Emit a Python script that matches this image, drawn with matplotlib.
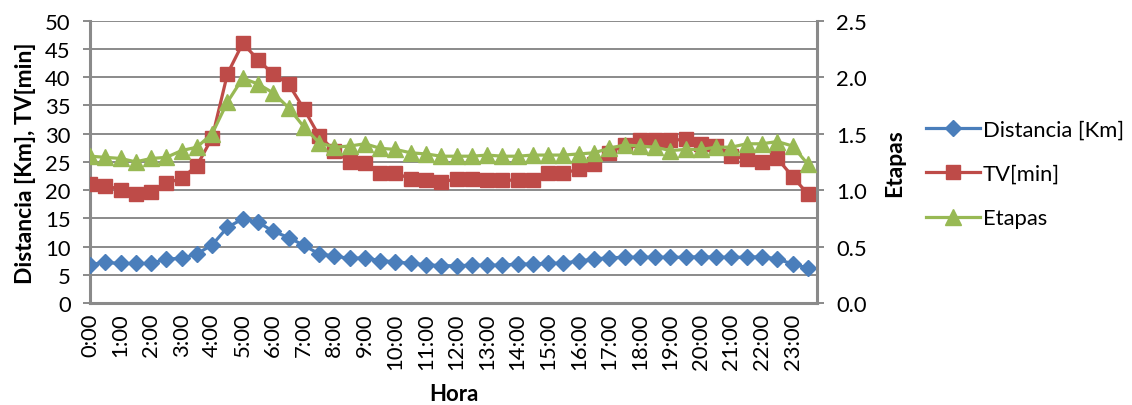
import matplotlib
matplotlib.use("Agg")
import matplotlib.pyplot as plt
import numpy as np

plt.rcParams['font.family'] = ['Lato', 'DejaVu Sans']

horas = [f"{h}:{m:02d}" for h in range(24) for m in (0, 30)]
tick_labels = [f"{h}:00" for h in range(24)]

distancia = [6.8, 7.2, 7.0, 7.0, 7.0, 7.8, 7.9, 8.7, 10.3, 13.4, 14.9, 14.3,
             12.7, 11.6, 10.2, 8.7, 8.3, 7.9, 8.0, 7.5, 7.3, 7.0, 6.8, 6.6,
             6.6, 6.7, 6.7, 6.7, 6.9, 6.9, 7.0, 7.1, 7.4, 7.8, 8.0, 8.1,
             8.1, 8.1, 8.1, 8.1, 8.2, 8.1, 8.1, 8.1, 8.2, 7.8, 6.9, 6.2]

tv = [21.0, 20.8, 20.1, 19.3, 19.6, 21.2, 22.1, 24.3, 29.3, 40.6, 46.0, 43.1,
      40.5, 38.8, 34.4, 29.6, 27.0, 25.0, 24.8, 23.1, 23.0, 22.0, 21.7, 21.4,
      22.0, 22.0, 21.8, 21.7, 21.8, 21.8, 23.0, 23.0, 23.7, 24.6, 26.6, 28.0,
      28.8, 28.9, 28.8, 29.0, 28.2, 27.8, 26.1, 25.5, 24.9, 25.6, 22.4, 19.3]

etapas = [1.30, 1.29, 1.28, 1.25, 1.28, 1.29, 1.35, 1.38, 1.50, 1.78, 1.99, 1.94,
          1.86, 1.73, 1.56, 1.42, 1.38, 1.39, 1.41, 1.37, 1.36, 1.33, 1.32, 1.30,
          1.30, 1.30, 1.31, 1.30, 1.30, 1.31, 1.31, 1.31, 1.32, 1.33, 1.37, 1.40,
          1.39, 1.38, 1.35, 1.36, 1.36, 1.38, 1.38, 1.41, 1.41, 1.43, 1.39, 1.23]

c_blue = '#4A7EBB'
c_red = '#BE4B48'
c_green = '#98B954'
c_grid = '#8A8A8A'
FS = 15.8

W, H = 1132, 406
fig = plt.figure(figsize=(W / 100, H / 100), dpi=100)
L, R, T, B = 90, 817, 21.7, 304
ax = fig.add_axes([L / W, 1 - B / H, (R - L) / W, (B - T) / H])
ax2 = ax.twinx()

x = np.arange(len(horas))

l1, = ax.plot(x, distancia, color=c_blue, lw=2.3, marker='D', ms=8.4,
              mec=c_blue, mfc=c_blue, label='Distancia [Km]', zorder=3)
l2, = ax.plot(x, tv, color=c_red, lw=2.3, marker='s', ms=10.5,
              mec=c_red, mfc=c_red, label='TV[min]', zorder=4)
l3, = ax2.plot(x, etapas, color=c_green, lw=2.3, marker='^', ms=11.5,
               mec=c_green, mfc=c_green, label='Etapas', zorder=5)

ax.set_xlim(0, 47.6)
ax.set_ylim(0, 50)
ax2.set_ylim(0, 2.5)
ax.set_yticks(np.arange(0, 51, 5))
ax2.set_yticks(np.arange(0, 2.51, 0.5))
ax2.set_yticklabels([f"{v:.1f}" for v in np.arange(0, 2.51, 0.5)])
ax.set_xticks(x[::2])
ax.set_xticklabels(tick_labels, rotation=90)

ax.grid(axis='y', color=c_grid, lw=1.4)
ax.set_axisbelow(True)

for a in (ax, ax2):
    for s in a.spines.values():
        s.set_visible(False)
ax.spines['left'].set_visible(True)
ax.spines['bottom'].set_visible(True)
ax2.spines['right'].set_visible(True)
for s in (ax.spines['left'], ax.spines['bottom'], ax2.spines['right']):
    s.set_color(c_grid)
    s.set_linewidth(2.2)

ax.tick_params(axis='y', direction='out', length=5, width=1.4, color=c_grid,
               labelsize=FS, pad=9)
ax2.tick_params(axis='y', direction='out', length=5, width=1.4, color=c_grid,
                labelsize=FS, pad=9)
ax.tick_params(axis='x', length=0, labelsize=FS, pad=7)

ax.set_ylabel('Distancia [Km], TV[min]', fontsize=16.5, fontweight='bold', labelpad=6)
ax2.set_ylabel('Etapas', fontsize=16.5, fontweight='bold', labelpad=12)
ax.set_xlabel('Hora', fontsize=16, fontweight='bold', labelpad=10)

fig.legend(handles=[l1, l2, l3], loc='upper left',
           bbox_to_anchor=(926 / W, 1 - 121 / H), frameon=False,
           fontsize=FS, handlelength=2.45, handletextpad=0.15,
           labelspacing=1.1, borderpad=0, borderaxespad=0)

fig.savefig('out.png', dpi=100)
